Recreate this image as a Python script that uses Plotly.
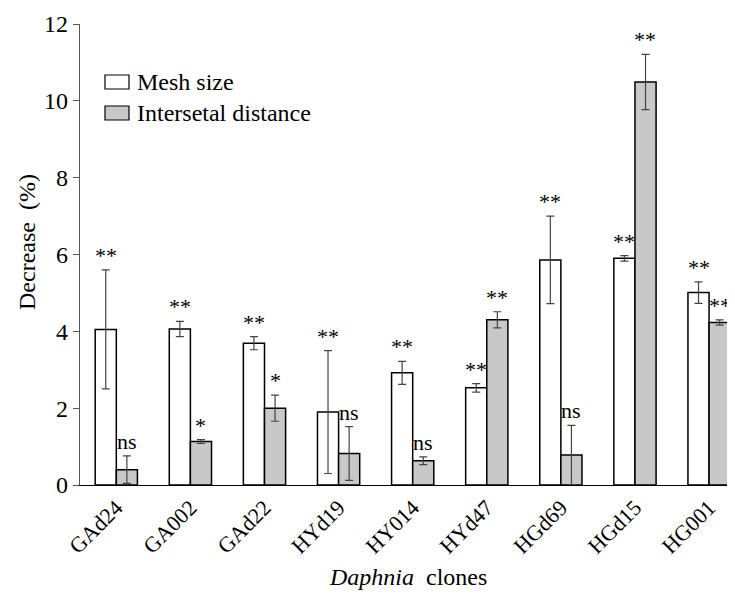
import plotly.graph_objects as go

clones = ["GAd24", "GA002", "GAd22", "HYd19", "HY014", "HYd47", "HGd69", "HGd15", "HG001"]
mesh = [4.05, 4.06, 3.69, 1.90, 2.92, 2.53, 5.86, 5.90, 5.01]
mesh_err = [1.55, 0.20, 0.17, 1.60, 0.30, 0.11, 1.14, 0.07, 0.28]
mesh_sig = ["**", "**", "**", "**", "**", "**", "**", "**", "**"]
inter = [0.40, 1.13, 2.00, 0.82, 0.63, 4.30, 0.78, 10.49, 4.23]
inter_err = [0.36, 0.05, 0.34, 0.70, 0.10, 0.21, 0.77, 0.72, 0.07]
inter_sig = ["ns", "*", "*", "ns", "ns", "**", "ns", "**", "**"]

FONT = "Liberation Serif, Times New Roman, serif"
# page body has an 8px margin; plot area spans page px x 80..735, y 24..485
PL, PR, PT, PB = 80, 735, 24, 485
PW, PH = PR - PL, PB - PT

def px(x):
    return (x - PL) / PW

def py(y):
    return (PB - y) / PH

fig = go.Figure()
fig.add_trace(go.Bar(
    x=clones, y=mesh, name="Mesh size", marker=dict(color="white", line=dict(color="black", width=1.5)),
    error_y=dict(type="data", array=mesh_err, color="#444", thickness=1.2, width=4),
    offsetgroup="a", showlegend=False))
fig.add_trace(go.Bar(
    x=clones, y=inter, name="Intersetal distance", marker=dict(color="#c8c8c8", line=dict(color="black", width=1.5)),
    error_y=dict(type="data", array=inter_err, color="#444", thickness=1.2, width=4),
    offsetgroup="b", showlegend=False))

# significance labels
for i, c in enumerate(clones):
    fig.add_annotation(x=c, y=mesh[i] + mesh_err[i], text=mesh_sig[i], showarrow=False,
                       xshift=-10.5, yshift=0, yanchor="bottom", font=dict(family=FONT, size=22, color="black"))
    fig.add_annotation(x=c, y=inter[i] + inter_err[i], text=inter_sig[i], showarrow=False,
                       xshift=10.5, yshift=0, yanchor="bottom", font=dict(family=FONT, size=22, color="black"))

# legend drawn manually
legend_items = [("Mesh size", "white", 82), ("Intersetal distance", "#c8c8c8", 113)]
for label, col, yc in legend_items:
    fig.add_shape(type="rect", xref="paper", yref="paper",
                  x0=px(105), x1=px(129), y0=py(yc + 7), y1=py(yc - 7),
                  fillcolor=col, line=dict(color="black", width=1.2))
    fig.add_annotation(xref="paper", yref="paper", x=px(135), y=py(yc),
                       text=label, showarrow=False, xanchor="left", yanchor="middle",
                       font=dict(family=FONT, size=24, color="black"))

fig.add_annotation(xref="paper", yref="paper", x=px(27), y=py(242),
                   text="Decrease  (%)", textangle=-90, showarrow=False, xanchor="center", yanchor="middle",
                   font=dict(family=FONT, size=24, color="black"))
fig.add_annotation(xref="paper", yref="paper", x=px(408), y=py(577),
                   text="<i>Daphnia</i>  clones", showarrow=False, xanchor="center", yanchor="middle",
                   font=dict(family=FONT, size=24, color="black"))

fig.update_layout(
    width=727, height=589, margin=dict(l=72, r=0, t=16, b=112),
    paper_bgcolor="white", plot_bgcolor="white",
    barmode="group", bargap=0.43, bargroupgap=0,
    font=dict(family=FONT, size=22, color="black"),
    xaxis=dict(range=[-0.49, 8.35], showline=True, linecolor="black", linewidth=1.2,
               ticks="", tickangle=-45, tickfont=dict(family=FONT, size=22), showgrid=False, zeroline=False),
    yaxis=dict(range=[0, 12], dtick=2, showline=True, linecolor="#555", linewidth=1.2,
               ticks="outside", ticklen=6, tickcolor="#555", tickfont=dict(family=FONT, size=24),
               showgrid=False, zeroline=False),
)
fig.write_html("out.html")
